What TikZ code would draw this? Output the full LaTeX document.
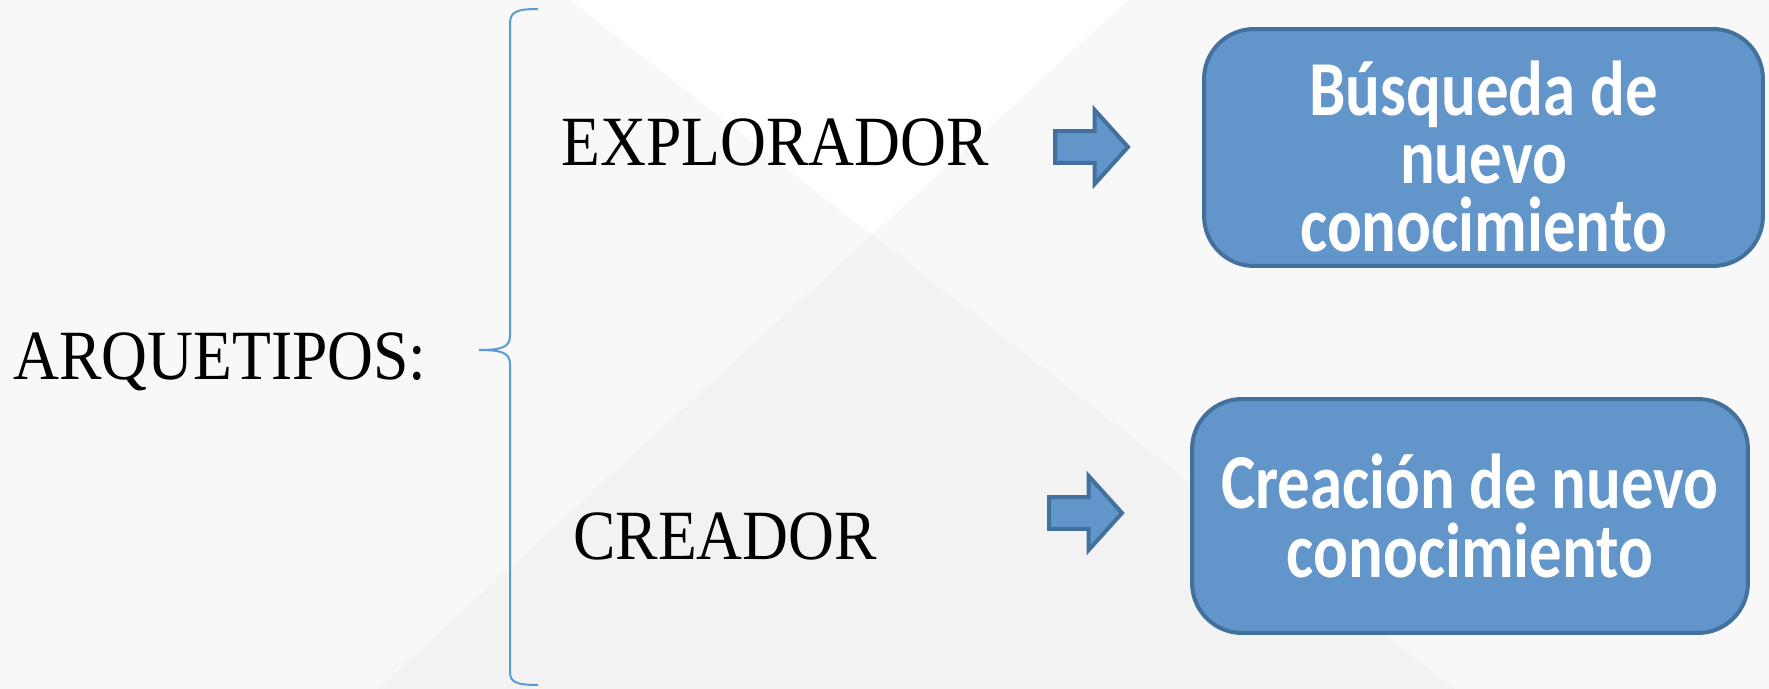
\documentclass[tikz,border=0pt]{standalone}
\usepackage{fontspec}
\setmainfont{Liberation Serif}[FakeStretch=0.9]
\newfontfamily\boxfont{Carlito}[FakeStretch=0.833]
\usetikzlibrary{shapes.arrows}
\definecolor{boxfill}{RGB}{98,149,201}
\definecolor{boxline}{RGB}{66,113,157}
\definecolor{bracecol}{RGB}{91,155,213}
\definecolor{sidegray}{RGB}{248,248,248}
\definecolor{lowgray}{RGB}{242,242,242}
\newcommand{\tightlines}{\lineskiplimit=-50pt\relax}

\begin{document}
\begin{tikzpicture}[x=0.02cm, y=-0.02cm,
		word/.style={anchor=base west, inner sep=0pt, font=\fontsize{40.2}{44}\selectfont},
		idea/.style={rectangle, rounded corners=1cm, draw=boxline, fill=boxfill, line width=0.08cm, text=white, align=center, inner sep=0pt, font=\boxfont\bfseries\fontsize{44.3}{38.8}\selectfont\tightlines},
		blockarrow/.style={single arrow, draw=boxline, fill=boxfill, line width=0.08cm, inner xsep=0pt, inner ysep=0.28cm, minimum height=1.46cm, single arrow head extend=0.42cm, single arrow tip angle=96, anchor=west}]
			%%%%% START %%%%%
			
			\useasboundingbox (0, 0) rectangle (1769, 689);
			\fill[sidegray] (0, 0) rectangle (1769, 689);
			\fill[white] (570, 0) -- (1128, 0) -- (872, 235) -- cycle;
			\fill[lowgray] (872, 235) -- (1455, 689) -- (378, 689) -- cycle;
			
			\node[word] (arche) at (13, 379) {ARQUETIPOS:};
			\node[word] (explo) at (561, 166) {EXPLORADOR};
			\node[word] (crea) at (573, 559) {CREADOR};
			
			\draw[line width=0.04cm, color=bracecol] (538, 9) .. controls (516, 9) and (510, 12) .. (510, 24) -- (510, 336) .. controls (510, 347) and (502, 350) .. (479, 350) .. controls (502, 350) and (510, 353) .. (510, 364) -- (510, 672) .. controls (510, 682) and (516, 685) .. (538, 685);
			
			\node[blockarrow] (arrA) at (1053, 147) {};
			\node[blockarrow] (arrB) at (1047, 513) {};
			
			\node[idea, minimum width=11.18cm, minimum height=4.74cm] (busq) at (1483.5, 147.5) {\rule{0pt}{1.44cm}Búsqueda de\\nuevo\\conocimiento};
			\node[idea, minimum width=11.12cm, minimum height=4.68cm] (creac) at (1470, 516) {Creación de nuevo\\conocimiento};
			
			%%%%% END %%%%%
		\end{tikzpicture}
\end{document}
